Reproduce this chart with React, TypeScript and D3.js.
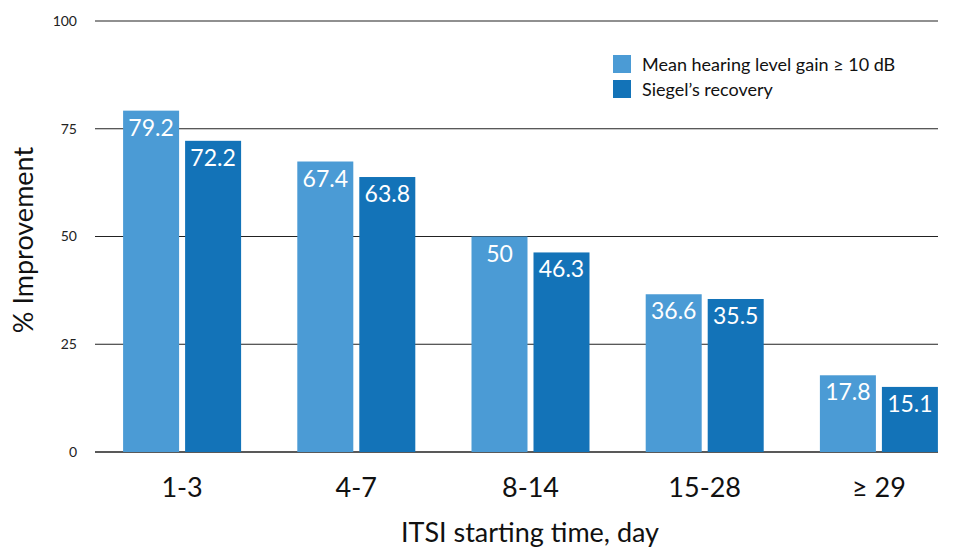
import React from "react";
import * as d3 from "d3";

const categories = ["1-3", "4-7", "8-14", "15-28", "≥ 29"];
const seriesNames = ["Mean hearing level gain ≥ 10 dB", "Siegel’s recovery"];
const meanGain = [79.2, 67.4, 50, 36.6, 17.8];
const siegel = [72.2, 63.8, 46.3, 35.5, 15.1];
const yTicks = [0, 25, 50, 75, 100];
const colors = ["#4b9bd5", "#1373b8"];

const W = 957, H = 550;
const FONT = "Lato, 'Open Sans', sans-serif";

export default function App() {
  const x = d3.scaleBand<string>().domain(categories).range([95, 966]).paddingInner(0.3226).paddingOuter(0.1613);
  const xs = d3.scaleBand<number>().domain([0, 1]).range([0, x.bandwidth()]).paddingInner(0.0968);
  const y = d3.scaleLinear().domain([0, 100]).range([452, 21]);
  const series = [meanGain, siegel];
  return (
    <svg width={W} height={H} style={{ position: "absolute", left: 0, top: 0, background: "#fff" }} fontFamily={FONT}>
      {yTicks.map((t) => (
        <g key={t}>
          <line x1={95} x2={938} y1={y(t)} y2={y(t)} stroke="#222" strokeWidth={t === 0 ? 1.5 : 1.2} />
          <text x={77} y={y(t)} dy="0.35em" textAnchor="end" fontSize={14} fill="#222">{t}</text>
        </g>
      ))}
      {categories.map((c, i) => (
        <g key={c} transform={`translate(${x(c)},0)`}>
          {series.map((s, j) => {
            const bx = xs(j)!;
            const bw = xs.bandwidth();
            return (
              <g key={j}>
                <rect x={bx} y={y(s[i])} width={bw} height={y(0) - y(s[i])} fill={colors[j]} />
                <text x={bx + bw / 2} y={y(s[i]) + 25} textAnchor="middle" fontSize={23} fill="#fff">{s[i]}</text>
              </g>
            );
          })}
          <text x={x.bandwidth() / 2} y={497} textAnchor="middle" fontSize={27} fill="#111">{c}</text>
        </g>
      ))}
      <text x={530} y={542} textAnchor="middle" fontSize={27} fill="#111">ITSI starting time, day</text>
      <text transform={`translate(33,240) rotate(-90)`} textAnchor="middle" fontSize={27} fill="#111">% Improvement</text>
      {seriesNames.map((n, j) => (
        <g key={n} transform={`translate(613,${55 + j * 25})`}>
          <rect width={18} height={18} fill={colors[j]} />
          <text x={29} y={16} fontSize={18} fill="#111">{n}</text>
        </g>
      ))}
    </svg>
  );
}
